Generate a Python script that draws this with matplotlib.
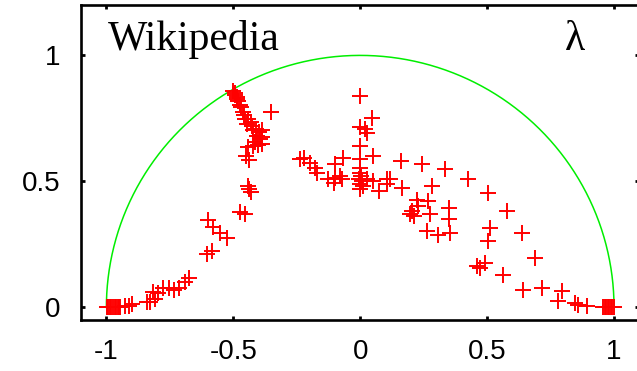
import numpy as np
import matplotlib
matplotlib.use('Agg')
import matplotlib.pyplot as plt

plt.rcParams['axes.unicode_minus'] = False

# eigenvalue positions (real part, imaginary part)
lam_re = [
    -0.998, -0.992, -0.986, -0.980, -0.974, -0.968, -0.962, -0.956, -0.950, -0.945,
    -0.925, -0.910, -0.898, -0.840, -0.830, -0.808,
    -0.815, -0.795, -0.775, -0.755, -0.735, -0.715, -0.690, -0.676,
    -0.602, -0.583, -0.598, -0.579, -0.551, -0.524, -0.472, -0.453,
    -0.441, -0.437, -0.429, -0.449, -0.437,
    -0.500, -0.495, -0.492, -0.486, -0.484, -0.480, -0.472, -0.469, -0.461, -0.457,
    -0.453, -0.441, -0.445, -0.429, -0.425, -0.421, -0.409, -0.398, -0.386, -0.406,
    -0.394, -0.386, -0.413, -0.402, -0.441, -0.421, -0.386, -0.350,
    0.000, 0.046, 0.000, 0.020, 0.026, 0.000, 0.052, 0.000, 0.000, 0.000,
    0.003, -0.005, 0.008, 0.000, 0.012, 0.001,
    -0.236, -0.223, -0.197, -0.177, -0.171, -0.098, -0.066, -0.098, -0.125, -0.079,
    -0.072, -0.104, 0.026, 0.052, 0.074, 0.106, 0.105, 0.118, 0.160,
    0.243, 0.335, 0.426, 0.505, 0.578, 0.164, 0.282, 0.223, 0.269, 0.204,
    0.197, 0.210, 0.228, 0.348, 0.276, 0.348, 0.263, 0.308, 0.354, 0.512,
    0.505, 0.637, 0.689, 0.459, 0.472, 0.492, 0.564, 0.643, 0.715, 0.794,
    0.781, 0.846, 0.860, 0.892,
    0.957, 0.963, 0.969, 0.975, 0.981, 0.987, 0.993, 1.000,
]
lam_im = [
    0.0, 0.0, 0.0, 0.0, 0.0, 0.0, 0.0, 0.0, 0.0, 0.0,
    0.006, 0.004, 0.012, 0.022, 0.020, 0.032,
    0.062, 0.056, 0.076, 0.078, 0.070, 0.077, 0.100, 0.117,
    0.210, 0.222, 0.348, 0.321, 0.297, 0.277, 0.380, 0.369,
    0.483, 0.471, 0.456, 0.599, 0.584,
    0.858, 0.850, 0.842, 0.833, 0.825, 0.818, 0.802, 0.794, 0.774, 0.763,
    0.747, 0.747, 0.727, 0.735, 0.719, 0.703, 0.707, 0.695, 0.703, 0.679,
    0.667, 0.675, 0.655, 0.643, 0.636, 0.640, 0.647, 0.774,
    0.839, 0.753, 0.714, 0.707, 0.694, 0.640, 0.601, 0.588, 0.555, 0.535,
    0.520, 0.510, 0.500, 0.490, 0.480, 0.468,
    0.588, 0.594, 0.574, 0.554, 0.535, 0.568, 0.594, 0.515, 0.508, 0.521,
    0.508, 0.495, 0.508, 0.501, 0.461, 0.488, 0.508, 0.508, 0.581,
    0.568, 0.548, 0.508, 0.455, 0.382, 0.475, 0.481, 0.428, 0.422, 0.382,
    0.369, 0.362, 0.402, 0.395, 0.369, 0.349, 0.302, 0.289, 0.296, 0.316,
    0.262, 0.296, 0.196, 0.163, 0.157, 0.177, 0.130, 0.070, 0.077, 0.064,
    0.024, 0.017, 0.011, 0.004,
    0.0, 0.0, 0.0, 0.0, 0.0, 0.0, 0.0, 0.0,
]

xticks = [-1, -0.5, 0, 0.5, 1]
xticklabels = ['-1', '-0.5', '0', '0.5', '1']
yticks = [0, 0.5, 1]
yticklabels = ['0', '0.5', '1']

fig = plt.figure(figsize=(6.37, 3.71), dpi=100)
ax = fig.add_axes([81 / 637, 51 / 371, 558.4 / 637, 315 / 371])

# unit circle (upper half)
t = np.linspace(0, np.pi, 400)
ax.plot(np.cos(t), np.sin(t), color='#00ee00', lw=1.1)

ax.plot(lam_re, lam_im, linestyle='none', marker='+', color='#ff0000',
        markersize=11.5, markeredgewidth=1.4)

ax.set_xlim(-1.1, 1.1)
ax.set_ylim(-0.05, 1.2)
ax.set_xticks(xticks)
ax.set_xticklabels(xticklabels)
ax.set_yticks(yticks)
ax.set_yticklabels(yticklabels)
ax.tick_params(direction='in', length=3, width=2, top=True, right=True,
               labelsize=20, pad=15)
ax.tick_params(axis='x', pad=14)
for lab in ax.get_xticklabels() + ax.get_yticklabels():
    lab.set_family('Liberation Sans')
for sp in ax.spines.values():
    sp.set_linewidth(1.9)

ax.text(0.048, 0.857, 'Wikipedia', transform=ax.transAxes, ha='left',
        va='baseline', fontsize=30, family='Liberation Serif')
ax.text(0.867, 0.857, 'λ', transform=ax.transAxes, ha='left',
        va='baseline', fontsize=30, family='Liberation Serif')

fig.savefig('out.png', dpi=100)
